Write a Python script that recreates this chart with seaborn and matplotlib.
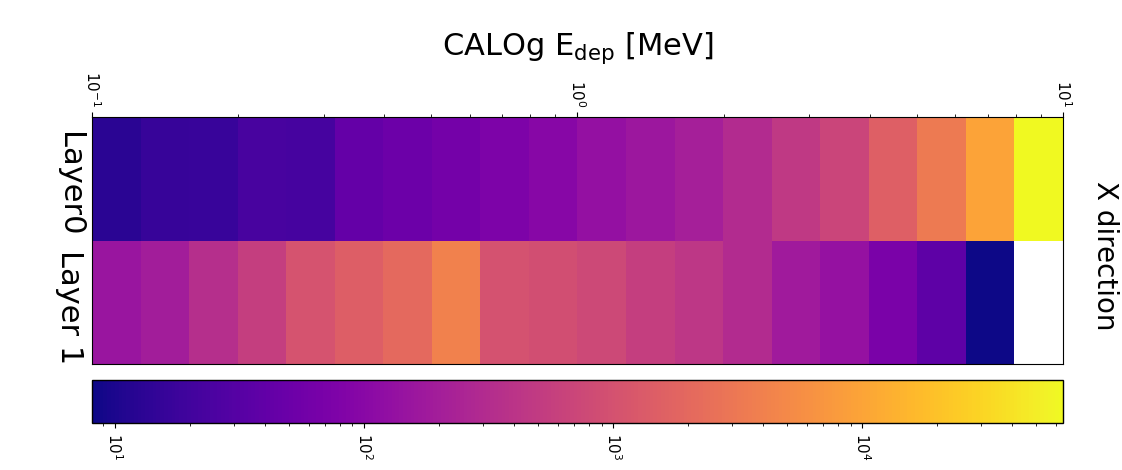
import numpy as np
import pandas as pd
import seaborn as sns
import matplotlib.pyplot as plt
import matplotlib.transforms as mtransforms
from matplotlib.colors import LogNorm
from matplotlib.ticker import LogLocator

# Deposited energy binning (20 log-spaced bins between 0.1 and 10 MeV)
edep_min, edep_max = 0.1, 10.0
layers = ['Layer0', 'Layer 1']

# Counts per energy bin
layer0_counts = [12.7, 15.9, 16.6, 22.7, 22.0, 42.5, 50.9, 60.9, 76.3, 95.5,
                 131, 164, 205, 307, 459, 689, 1545, 3313, 9727, 64100]
layer1_counts = [150, 196, 336, 551, 1031, 1476, 2022, 4149, 1020, 901,
                 753, 560, 439, 310, 179, 137, 69.8, 37.2, 8.1, np.nan]

counts = pd.DataFrame([layer0_counts, layer1_counts], index=layers)

plt.rcParams['mathtext.fontset'] = 'dejavuserif'

fig = plt.figure(figsize=(11.22, 4.70), dpi=100)
ax = fig.add_axes([0.082, 0.2255, 0.8654, 0.5255])
cax = fig.add_axes([0.082, 0.100, 0.8654, 0.0915])

norm = LogNorm(vmin=np.nanmin(counts.values), vmax=np.nanmax(counts.values))
sns.heatmap(counts, ax=ax, cmap='plasma', norm=norm, cbar_ax=cax,
            cbar_kws={'orientation': 'horizontal'}, xticklabels=False)

# Layer labels on the left, rotated
ax.set_yticklabels(layers, rotation=-90, va='center', fontsize=22)
ax.tick_params(axis='y', length=0, pad=6)
shift = mtransforms.ScaledTranslation(0, -0.05, fig.dpi_scale_trans)
for lab in ax.get_yticklabels():
    lab.set_transform(lab.get_transform() + shift)
ax.set_ylabel('')

# Log energy axis on top, aligned with the bins
ax2 = ax.twiny()
ax2.set_xscale('log')
ax2.set_xlim(edep_min, edep_max)
ax2.tick_params(axis='x', which='both', labelrotation=-90, labelsize=11)
ax2.set_xlabel('CALOg E$_\\mathregular{dep}$ [MeV]', fontsize=22, labelpad=12)

# Colorbar: outline and minor ticks back on
cb = ax.collections[0].colorbar
cb.outline.set_linewidth(1.0)
cb.outline.set_edgecolor('black')
cax.xaxis.set_minor_locator(LogLocator(base=10, subs=np.arange(2, 10)))
cax.tick_params(axis='x', which='both', labelrotation=-90, labelsize=11)

fig.text(0.985, 0.455, 'X direction', rotation=-90, fontsize=20,
         ha='center', va='center')

plt.savefig('out.png', dpi=100)
